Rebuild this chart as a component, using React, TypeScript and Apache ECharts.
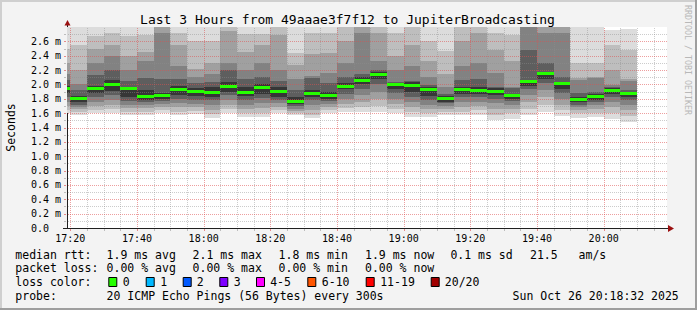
import React, { useEffect, useRef } from 'react';
import * as echarts from 'echarts';

const chartTitle = 'Last 3 Hours from 49aaae3f7f12 to JupiterBroadcasting';
const yAxisTitle = 'Seconds';
const watermark = 'RRDTOOL / TOBI OETIKER';
const axisStart = '17:19';
const axisEnd = '20:19';
const xTickLabels = ['17:20', '17:40', '18:00', '18:20', '18:40', '19:00', '19:20', '19:40', '20:00'];
const binMinutes = 5;
const gridMinorMinutes = 5;
const gridMajorMinutes = 20;
const yMax = 2.8;
const yLabelStep = 0.2;
const yMinorCount = 27;

const binStarts = ['17:15', '17:20', '17:25', '17:30', '17:35', '17:40', '17:45', '17:50', '17:55', '18:00', '18:05', '18:10', '18:15', '18:20', '18:25', '18:30', '18:35', '18:40', '18:45', '18:50', '18:55', '19:00', '19:05', '19:10', '19:15', '19:20', '19:25', '19:30', '19:35', '19:40', '19:45', '19:50', '19:55', '20:00', '20:05'];
const median = [1.95, 1.80, 1.95, 2.005, 1.95, 1.833, 1.847, 1.936, 1.903, 1.89, 1.972, 1.894, 1.954, 1.903, 1.763, 1.87, 1.843, 1.978, 2.06, 2.145, 1.996, 1.99, 1.926, 1.80, 1.926, 1.917, 1.903, 1.843, 2.038, 2.149, 2.01, 1.791, 1.829, 1.912, 1.87];
const lo0 = [1.60, 1.57, 1.60, 1.60, 1.57, 1.58, 1.60, 1.57, 1.59, 1.53, 1.60, 1.54, 1.54, 1.60, 1.57, 1.53, 1.60, 1.62, 1.62, 1.62, 1.60, 1.55, 1.54, 1.58, 1.57, 1.58, 1.51, 1.52, 1.58, 1.62, 1.56, 1.53, 1.54, 1.525, 1.48];
const lo1 = [1.65, 1.62, 1.64, 1.66, 1.62, 1.62, 1.64, 1.62, 1.63, 1.59, 1.66, 1.60, 1.60, 1.64, 1.60, 1.58, 1.64, 1.67, 1.68, 1.70, 1.66, 1.61, 1.60, 1.62, 1.62, 1.64, 1.58, 1.60, 1.66, 1.72, 1.64, 1.60, 1.60, 1.60, 1.56];
const lo2 = [1.70, 1.66, 1.70, 1.72, 1.67, 1.67, 1.68, 1.68, 1.68, 1.65, 1.72, 1.66, 1.67, 1.69, 1.63, 1.65, 1.68, 1.73, 1.76, 1.80, 1.73, 1.68, 1.66, 1.66, 1.68, 1.70, 1.66, 1.66, 1.76, 1.82, 1.72, 1.64, 1.66, 1.68, 1.64];
const lo3 = [1.76, 1.69, 1.75, 1.78, 1.72, 1.71, 1.73, 1.74, 1.73, 1.72, 1.78, 1.72, 1.74, 1.74, 1.66, 1.72, 1.73, 1.80, 1.85, 1.90, 1.80, 1.75, 1.72, 1.70, 1.75, 1.76, 1.74, 1.72, 1.85, 1.92, 1.80, 1.68, 1.71, 1.76, 1.72];
const lo4 = [1.82, 1.72, 1.82, 1.85, 1.77, 1.76, 1.77, 1.80, 1.79, 1.78, 1.85, 1.79, 1.81, 1.79, 1.70, 1.78, 1.77, 1.87, 1.93, 2.00, 1.88, 1.83, 1.78, 1.74, 1.82, 1.82, 1.80, 1.77, 1.93, 2.02, 1.88, 1.72, 1.76, 1.82, 1.78];
const lo5 = [1.88, 1.75, 1.88, 1.91, 1.82, 1.79, 1.80, 1.85, 1.84, 1.83, 1.90, 1.84, 1.87, 1.83, 1.73, 1.82, 1.80, 1.93, 2.00, 2.07, 1.94, 1.89, 1.84, 1.76, 1.87, 1.86, 1.85, 1.80, 1.98, 2.08, 1.93, 1.75, 1.79, 1.87, 1.82];
const hi5 = [1.98, 1.84, 1.98, 2.06, 1.97, 1.92, 1.88, 1.98, 1.95, 1.96, 2.03, 1.97, 2.0, 1.96, 1.83, 1.92, 1.9, 2.02, 2.1, 2.17, 2.02, 2.03, 1.96, 1.84, 1.97, 1.96, 1.95, 1.86, 2.06, 2.16, 2.02, 1.83, 1.86, 1.95, 1.9];
const hi4 = [2.06, 1.92, 2.13, 2.2, 2.05, 2.09, 2.07, 2.08, 2.02, 2.04, 2.2, 2.07, 2.1, 2.05, 1.92, 2.09, 2.02, 2.11, 2.14, 2.2, 2.04, 2.05, 1.99, 1.86, 2.06, 2.07, 1.97, 1.95, 2.48, 2.3, 2.11, 1.88, 1.9, 1.97, 1.92];
const hi3 = [2.15, 2.0, 2.3, 2.39, 2.2, 2.32, 2.72, 2.25, 2.1, 2.15, 2.3, 2.2, 2.3, 2.2, 2.07, 2.12, 2.16, 2.3, 2.72, 2.33, 2.2, 2.25, 2.11, 1.97, 2.25, 2.3, 2.16, 1.97, 3.0, 2.72, 2.72, 2.06, 2.09, 1.99, 2.05];
const hi2 = [2.3, 2.2, 2.5, 2.55, 2.4, 2.45, 2.9, 2.55, 2.22, 2.3, 2.74, 2.45, 2.55, 2.69, 2.27, 2.42, 2.44, 2.6, 2.9, 2.72, 2.39, 2.55, 2.32, 2.14, 2.6, 2.72, 2.48, 2.32, 3.1, 2.9, 2.9, 2.09, 2.1, 2.2, 2.08];
const hi1 = [2.5, 2.55, 2.68, 2.72, 2.68, 2.69, 3.0, 2.72, 2.6, 2.6, 2.9, 2.7, 2.7, 2.9, 2.44, 2.72, 2.72, 2.9, 3.0, 2.9, 2.72, 2.9, 2.6, 2.46, 2.9, 2.9, 2.72, 2.69, 3.2, 3.0, 3.0, 2.3, 2.3, 2.55, 2.48];
const hi0 = [2.9, 2.9, 2.9, 2.9, 2.9, 2.9, 3.1, 2.9, 2.9, 2.9, 3.0, 2.9, 2.9, 3.0, 2.9, 2.9, 2.9, 3.0, 3.1, 3.0, 2.9, 3.0, 2.9, 2.9, 3.0, 3.0, 2.9, 2.9, 3.3, 3.1, 3.1, 2.9, 2.9, 2.76, 2.77];

const rttLabel = 'median rtt:';
const rttStats = ['1.9 ms avg', '2.1 ms max', '1.8 ms min', '1.9 ms now', '0.1 ms sd'];
const amsValue = '21.5';
const amsUnit = 'am/s';
const lossLabel = 'packet loss:';
const lossStats = ['0.00 % avg', '0.00 % max', '0.00 % min', '0.00 % now'];
const lossColorLabel = 'loss color:';
const lossColorNames = ['0', '1', '2', '3', '4-5', '6-10', '11-19', '20/20'];
const lossColors = ['#26ff00', '#00b8ff', '#0059ff', '#7e00ff', '#ff00ff', '#ff5500', '#ff0000', '#a10000'];
const probeLabel = 'probe:';
const probeText = '20 ICMP Echo Pings (56 Bytes) every 300s';
const timestamp = 'Sun Oct 26 20:18:32 2025';

const MONO = '"DejaVu Sans Mono", monospace';
const loLayers = [lo0, lo1, lo2, lo3, lo4, lo5];
const hiLayers = [hi0, hi1, hi2, hi3, hi4, hi5];
const layerColors = ['#dcdcdc', '#bebebe', '#a0a0a0', '#828282', '#5e5e5e', '#363636'];

const toMin = (s: string) => {
  const [h, m] = s.split(':').map(Number);
  return h * 60 + m;
};
const fmtMin = (v: number) => {
  const h = Math.floor(v / 60);
  const m = Math.round(v - h * 60);
  return `${h}:${m < 10 ? '0' : ''}${m}`;
};

export default function App() {
  const ref = useRef<HTMLDivElement>(null);
  useEffect(() => {
    if (!ref.current) return;
    const chart = echarts.init(ref.current, undefined, { renderer: 'svg' });
    const xMin = toMin(axisStart);
    const xMax = toMin(axisEnd);
    const firstTick = toMin(xTickLabels[0]);

    const smokeData = binStarts.map((t, i) => [toMin(t), median[i], i]);

    const vGrid: number[][] = [];
    for (let m = firstTick; m < xMax; m += gridMinorMinutes) {
      vGrid.push([m, (m - firstTick) % gridMajorMinutes === 0 ? 1 : 0]);
    }
    const hGrid: number[][] = [];
    for (let k = 1; k <= yMinorCount; k++) {
      hGrid.push([k / 10, k % 2 === 0 ? 1 : 0]);
    }

    const renderSmoke = (_p: any, api: any) => {
      const i = api.value(2);
      const t0 = Math.max(api.value(0), xMin);
      const t1 = api.value(0) + binMinutes;
      const xL = Math.round(api.coord([t0, 0])[0]);
      const xR = Math.round(api.coord([t1, 0])[0]);
      const children: any[] = [];
      for (let k = 0; k < loLayers.length; k++) {
        const top = Math.round(api.coord([t0, Math.min(hiLayers[k][i], yMax)])[1]);
        const bot = Math.round(api.coord([t0, Math.min(loLayers[k][i], yMax)])[1]);
        children.push({
          type: 'rect',
          shape: { x: xL, y: top, width: xR - xL, height: bot - top },
          style: { fill: layerColors[k] },
        });
      }
      return { type: 'group', children };
    };

    const renderMedian = (_p: any, api: any) => {
      const t0 = Math.max(api.value(0), xMin);
      const t1 = api.value(0) + binMinutes;
      const a = api.coord([t0, api.value(1)]);
      const b = api.coord([t1, api.value(1)]);
      const xL = Math.round(a[0]);
      const xR = Math.round(b[0]);
      return {
        type: 'rect',
        shape: { x: xL, y: Math.round(a[1] - 1.5), width: xR - xL, height: 3 },
        style: { fill: '#26ff00' },
      };
    };

    const majorColor = 'rgba(222,80,80,0.55)';
    const minorColor = 'rgba(143,143,143,0.45)';
    const majorTick = '#e58a8a';
    const minorTick = '#bdbdbd';

    // single-item series: draws the whole grid through the axis scales
    const renderGrid = (_p: any, api: any) => {
      const children: any[] = [];
      const bl = api.coord([xMin, 0]);
      const tr = api.coord([xMax, yMax]);
      const yb = Math.round(bl[1]);
      const yt = Math.round(tr[1]);
      const xl = Math.round(bl[0]);
      const xr = Math.round(tr[0]);
      vGrid.forEach(([m, major]) => {
        const x = Math.round(api.coord([m, 0])[0]);
        // dotted vertical line as 1px dots
        for (let y = yt + 1; y < yb; y += 2) {
          children.push({
            type: 'rect',
            shape: { x, y, width: 1, height: 1 },
            style: { fill: major ? majorColor : minorColor },
          });
        }
        children.push({
          type: 'rect',
          shape: { x, y: yb + 1, width: 1, height: 2 },
          style: { fill: major ? majorTick : minorTick },
        });
      });
      hGrid.forEach(([v, major]) => {
        const y = Math.round(api.coord([xMin, v])[1]) + 0.5;
        children.push({
          type: 'polyline',
          shape: { points: [[xl + 1, y], [xr, y]] },
          style: { stroke: major ? majorColor : minorColor, lineWidth: 1, lineDash: [1, 1], fill: 'none' },
        });
        children.push({
          type: 'rect',
          shape: { x: xl - 3, y: y - 0.5, width: 2, height: 1 },
          style: { fill: major ? majorTick : minorTick },
        });
      });
      return { type: 'group', children };
    };

    const txt = (text: string, x: number, y: number, size: number, extra: any = {}) => ({
      type: 'text',
      x,
      y,
      silent: true,
      ...extra,
      style: {
        text,
        font: `${size}px ${MONO}`,
        fill: extra.fill || '#000000',
        align: extra.align || 'left',
        verticalAlign: 'middle',
        textAlign: extra.align || 'left',
        textVerticalAlign: 'middle',
      },
    });

    const rowY = [254.5, 268.2, 281.8, 295.8];
    const colX = [106.6, 192.6, 278.6, 365, 450.4];
    const boxX = [108.3, 145.7, 182.7, 219.3, 256, 307.3, 365.7, 430.7];
    const boxLabelX = [122.8, 160.2, 196.8, 233.8, 270.2, 321.8, 380.2, 444.8];

    const graphics: any[] = [
      { type: 'rect', shape: { x: 0, y: 0, width: 697, height: 2 }, style: { fill: '#cfcfcf' }, silent: true },
      { type: 'rect', shape: { x: 0, y: 0, width: 2, height: 310 }, style: { fill: '#cfcfcf' }, silent: true },
      { type: 'rect', shape: { x: 0, y: 308, width: 697, height: 2 }, style: { fill: '#9e9e9e' }, silent: true },
      { type: 'rect', shape: { x: 695, y: 0, width: 2, height: 310 }, style: { fill: '#9e9e9e' }, silent: true },
      txt(chartTitle, 347.5, 19.5, 13, { align: 'center' }),
      txt(yAxisTitle, 11, 127.5, 11.5, { align: 'center', rotation: Math.PI / 2 }),
      txt(watermark, 688, 60, 8.3, { align: 'center', rotation: -Math.PI / 2, fill: '#b8b8b8' }),
      { type: 'rect', shape: { x: 63, y: 228, width: 4, height: 1 }, style: { fill: '#1f1f1f' }, silent: true },
      { type: 'rect', shape: { x: 667, y: 228, width: 2, height: 1 }, style: { fill: '#1f1f1f' }, silent: true },
      { type: 'rect', shape: { x: 67, y: 24, width: 1, height: 3 }, style: { fill: '#1f1f1f' }, silent: true },
      { type: 'polygon', shape: { points: [[668, 225], [674, 228.5], [668, 232]] }, style: { fill: '#9b1010' }, silent: true },
      { type: 'polygon', shape: { points: [[64.5, 25.5], [67.5, 20], [70.5, 25.5]] }, style: { fill: '#9b1010' }, silent: true },
      txt(rttLabel, 15.3, rowY[0], 11.5),
      ...rttStats.map((s, i) => txt(s, colX[i], rowY[0], 11.5)),
      txt(amsValue, 530, rowY[0], 11.5),
      txt(amsUnit, 578.6, rowY[0], 11.5),
      txt(lossLabel, 15.3, rowY[1], 11.5),
      ...lossStats.map((s, i) => txt(s, colX[i], rowY[1], 11.5)),
      txt(lossColorLabel, 15.3, rowY[2], 11.5),
      ...lossColors.map((c, i) => ({
        type: 'rect',
        silent: true,
        shape: { x: boxX[i] + 0.5, y: 277.5, width: 8, height: 9 },
        style: { fill: c, stroke: '#000000', lineWidth: 1 },
      })),
      ...lossColorNames.map((s, i) => txt(s, boxLabelX[i], rowY[2], 11.5)),
      txt(probeLabel, 15.3, rowY[3], 11.5),
      txt(probeText, colX[0], rowY[3], 11.5),
      txt(timestamp, 512.6, rowY[3], 11.5),
    ];

    chart.setOption({
      animation: false,
      backgroundColor: '#f3f3f3',
      textStyle: { fontFamily: MONO },
      grid: { left: 67, top: 27, width: 600, height: 201, show: true, backgroundColor: '#ffffff', borderWidth: 0, containLabel: false },
      xAxis: {
        type: 'value',
        min: xMin,
        max: xMax,
        axisLine: { show: true, lineStyle: { color: '#1f1f1f', width: 1 } },
        axisTick: { show: false },
        splitLine: { show: false },
        axisLabel: {
          customValues: xTickLabels.map(toMin),
          formatter: (v: number) => fmtMin(v),
          fontFamily: MONO,
          fontSize: 10,
          color: '#000000',
          margin: 5,
        },
      },
      yAxis: {
        type: 'value',
        min: 0,
        max: yMax,
        interval: yLabelStep,
        axisLine: { show: true, lineStyle: { color: '#1f1f1f', width: 1 } },
        axisTick: { show: false },
        splitLine: { show: false },
        axisLabel: {
          showMaxLabel: false,
          formatter: (v: number) => (Math.abs(v) < 1e-9 ? '{z|0.0}' : `${v.toFixed(1)} m`),
          fontFamily: MONO,
          fontSize: 10,
          color: '#000000',
          margin: 6,
          rich: { z: { fontFamily: MONO, fontSize: 10, color: '#000000', padding: [0, 12, 0, 0] } },
        },
      },
      series: [
        { type: 'custom', name: 'smoke', renderItem: renderSmoke, data: smokeData, encode: { x: 0, y: 1 }, silent: true, z: 2 },
        { type: 'custom', name: 'grid', renderItem: renderGrid, data: [[xMin, 0]], encode: { x: 0, y: 1 }, silent: true, z: 3 },
        { type: 'custom', name: 'median rtt', renderItem: renderMedian, data: smokeData, encode: { x: 0, y: 1 }, silent: true, z: 4 },
      ],
      graphic: graphics,
    });
    return () => chart.dispose();
  }, []);
  return <div ref={ref} style={{ position: 'fixed', left: 0, top: 0, width: 697, height: 310 }} />;
}
